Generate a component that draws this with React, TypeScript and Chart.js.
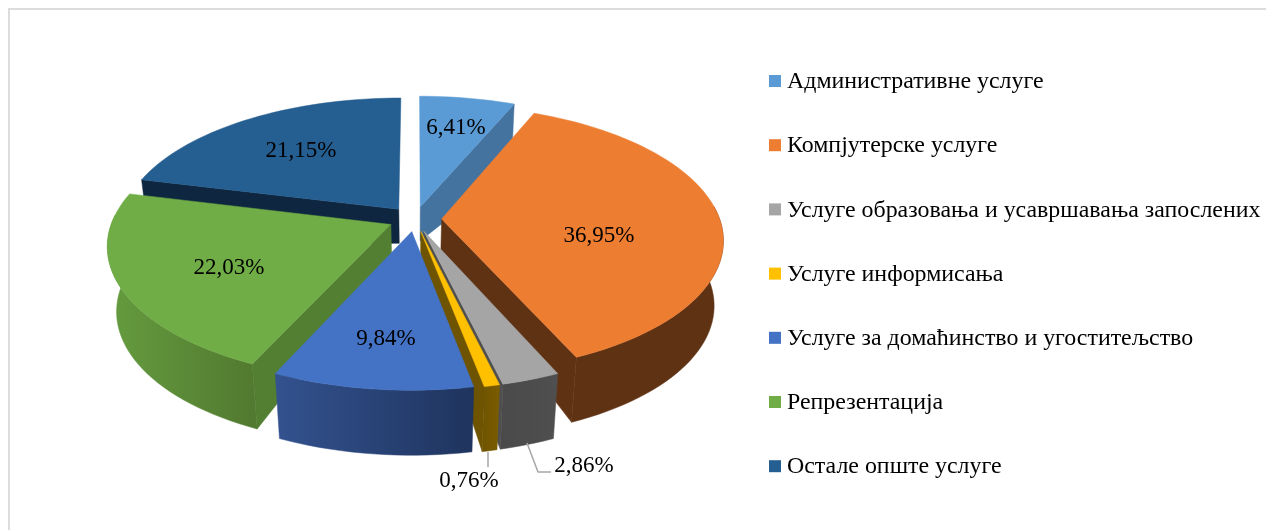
import React, { useEffect, useRef } from "react";
import { Chart, registerables } from "chart.js";

Chart.register(...registerables);

const categories = [
  "Административне услуге",
  "Компјутерске услуге",
  "Услуге образовања и усавршавања запослених",
  "Услуге информисања",
  "Услуге за домаћинство и угоститељство",
  "Репрезентација",
  "Остале опште услуге",
];
const shares = [6.41, 36.95, 2.86, 0.76, 9.84, 22.03, 21.15];

const topColors = ["#5b9bd5", "#ed7d31", "#a5a5a5", "#ffc000", "#4472c4", "#70ad47", "#255e91"];
const radialColors = ["#44739f", "#5f3214", "#4f4f4f", "#6e5300", "#2f4f8a", "#537f32", "#0e263f"];
const wallLeft = ["#44739f", "#5f3214", "#4a4a4a", "#705500", "#33528f", "#659c3f", "#1b466e"];
const wallRight = ["#44739f", "#5f3214", "#4f4f4f", "#7a5c00", "#1f345e", "#527a30", "#1b466e"];

const FONT = '"Liberation Serif", "Times New Roman", serif';
const LABEL_PX = 23;
const LEGEND_PX = 23.9;
const SCREEN_R = 278;
const TILT = 0.47;
const PERSP = 0.15;
const BOTTOM_SHRINK = 0.97;
const DEPTH_CENTER = 34;
const DEPTH_RIM = 31;
const WALL_CULL = 0.1;

// text anchors relative to the pie centre
const labelAnchors = [
  [41, -91],
  [184, 17],
  [169, 247],
  [54, 262],
  [-29, 120],
  [-186, 49],
  [-114, -68],
];

const LEGEND_BOX_X = 769;
const LEGEND_TEXT_X = 787;
const LEGEND_FIRST_Y = 81;
const LEGEND_STEP = 64.2;

const pie3d = {
  id: "pie3d",
  beforeDatasetsDraw(chart: any) {
    const ctx: CanvasRenderingContext2D = chart.ctx;
    const meta = chart.getDatasetMeta(0);
    const order = meta.data
      .map((el: any, i: number) => ({ el, i, mid: (el.startAngle + el.endAngle) / 2 + Math.PI / 2 }))
      .sort((a: any, b: any) => Math.cos(b.mid) - Math.cos(a.mid));

    ctx.save();
    ctx.lineJoin = "round";
    for (const { el, i, mid } of order) {
      const cx = el.x;
      const cy = el.y;
      const e = el.options.offset / el.outerRadius;
      const a0 = el.startAngle + Math.PI / 2;
      const a1 = el.endAngle + Math.PI / 2;
      const top = (a: number, r: number) => {
        const u = r * Math.sin(a) + e * Math.sin(mid);
        const v = r * Math.cos(a) + e * Math.cos(mid);
        const s = 1 / (1 + PERSP * v);
        return [cx + SCREEN_R * u * s, cy - SCREEN_R * TILT * v * s];
      };
      const bot = (a: number, r: number) => {
        const [x, y] = top(a, r);
        return [cx + (x - cx) * BOTTOM_SHRINK, y + DEPTH_CENTER + DEPTH_RIM * r];
      };
      const n = Math.max(4, Math.ceil(((a1 - a0) / Math.PI) * 90));
      const arcAngles: number[] = [];
      for (let k = 0; k <= n; k++) arcAngles.push(a0 + ((a1 - a0) * k) / n);

      const poly = (pts: number[][], fill: any) => {
        ctx.beginPath();
        pts.forEach((p, k) => (k ? ctx.lineTo(p[0], p[1]) : ctx.moveTo(p[0], p[1])));
        ctx.closePath();
        ctx.fillStyle = fill;
        ctx.strokeStyle = fill;
        ctx.lineWidth = 0.5;
        ctx.fill();
        ctx.stroke();
      };

      // radial faces that look towards the viewer
      const EPS = 1e-6;
      if (Math.sin(a0) < -EPS) poly([top(a0, 0), top(a0, 1), bot(a0, 1), bot(a0, 0)], radialColors[i]);
      if (Math.sin(a1) > EPS) poly([top(a1, 0), top(a1, 1), bot(a1, 1), bot(a1, 0)], radialColors[i]);

      // outer wall, front-facing part only
      const frontAngles = arcAngles.filter((a) => Math.cos(a) < WALL_CULL);
      if (frontAngles.length > 1) {
        const upperF = frontAngles.map((a) => top(a, 1));
        const lowerF = frontAngles.map((a) => bot(a, 1)).reverse();
        const xs = upperF.map((p) => p[0]);
        const g = ctx.createLinearGradient(Math.min(...xs), 0, Math.max(...xs), 0);
        g.addColorStop(0, wallLeft[i]);
        g.addColorStop(1, wallRight[i]);
        poly([...upperF, ...lowerF], g);
      }

      // top face
      poly([top(a0, 0), ...arcAngles.map((a) => top(a, 1))], topColors[i]);
    }

    // leader lines
    ctx.strokeStyle = "#a6a6a6";
    ctx.lineWidth = 1.5;
    const el0 = meta.data[0];
    ctx.beginPath();
    ctx.moveTo(el0.x + 112, el0.y + 224);
    ctx.lineTo(el0.x + 123, el0.y + 253);
    ctx.lineTo(el0.x + 136, el0.y + 253);
    ctx.moveTo(el0.x + 73, el0.y + 233);
    ctx.lineTo(el0.x + 73, el0.y + 248);
    ctx.stroke();

    // value labels
    ctx.fillStyle = "#000";
    ctx.font = `${LABEL_PX}px ${FONT}`;
    ctx.textAlign = "center";
    ctx.textBaseline = "middle";
    shares.forEach((v, i) => {
      ctx.fillText(
        v.toFixed(2).replace(".", ",") + "%",
        el0.x + labelAnchors[i][0],
        el0.y + labelAnchors[i][1]
      );
    });
    ctx.restore();
    return false;
  },
  afterDraw(chart: any) {
    const ctx: CanvasRenderingContext2D = chart.ctx;
    ctx.save();
    // frame
    ctx.strokeStyle = "#dcdcdc";
    ctx.lineWidth = 2;
    ctx.beginPath();
    ctx.moveTo(9, 540);
    ctx.lineTo(9, 9);
    ctx.lineTo(1270, 9);
    ctx.stroke();
    // legend
    ctx.font = `${LEGEND_PX}px ${FONT}`;
    ctx.textAlign = "left";
    ctx.textBaseline = "middle";
    categories.forEach((c, i) => {
      const y = LEGEND_FIRST_Y + LEGEND_STEP * i;
      ctx.fillStyle = topColors[i];
      ctx.fillRect(LEGEND_BOX_X, y - 6, 12, 12);
      ctx.fillStyle = "#000";
      ctx.fillText(c, LEGEND_TEXT_X, y + 1);
    });
    ctx.restore();
  },
};

export default function App() {
  const ref = useRef<HTMLCanvasElement>(null);
  useEffect(() => {
    const chart = new Chart(ref.current!, {
      type: "pie",
      data: {
        labels: categories,
        datasets: [{ data: shares, backgroundColor: topColors, offset: 20, borderWidth: 0 }],
      },
      options: {
        animation: false,
        responsive: false,
        layout: { padding: { left: 70, right: 506, top: 0, bottom: 92 } },
        plugins: { legend: { display: false }, tooltip: { enabled: false } },
      },
      plugins: [pie3d],
    } as any);
    return () => chart.destroy();
  }, []);
  return (
    <div style={{ position: "fixed", left: 0, top: 0, width: 1266, height: 530, background: "#fff" }}>
      <canvas ref={ref} width={1266} height={530} style={{ display: "block" }} />
    </div>
  );
}
